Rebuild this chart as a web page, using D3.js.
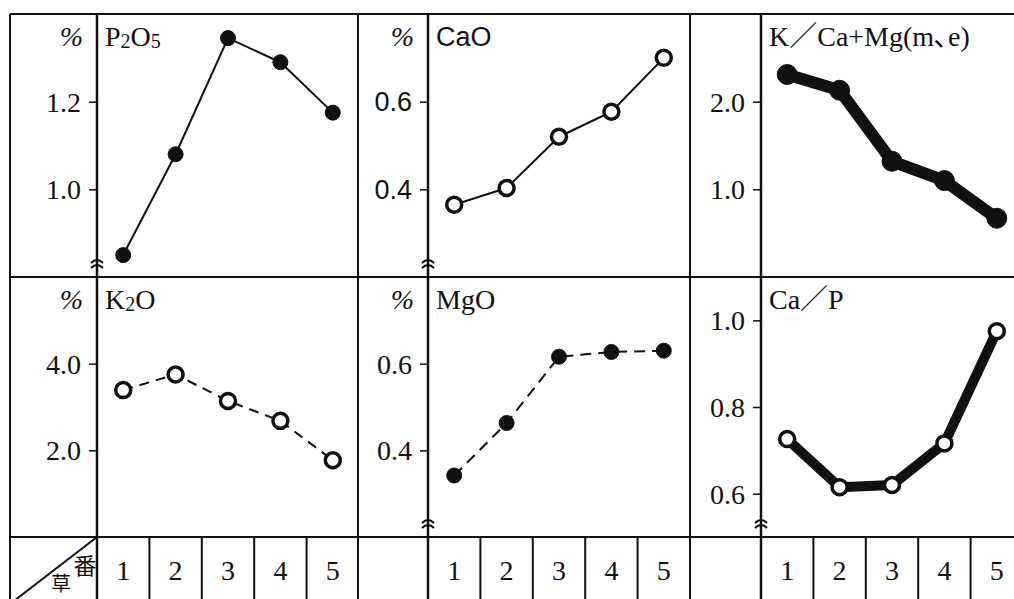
<!DOCTYPE html>
<html>
<head>
<meta charset="utf-8">
<script src="https://cdn.jsdelivr.net/npm/d3@7"></script>
<style>
  body { margin: 0; background: #fff; }
  svg { display: block; }
</style>
</head>
<body>
<div id="chart"></div>
<script>
// Data (categories 1-5 along the bottom table)
const categories = [1, 2, 3, 4, 5];

const p2o5Values = [0.85, 1.08, 1.345, 1.29, 1.175];
const caoValues = [0.365, 0.403, 0.52, 0.577, 0.70];
const kCaMgValues = [2.31, 2.13, 1.32, 1.10, 0.67];
const k2oValues = [3.39, 3.75, 3.14, 2.68, 1.77];
const mgoValues = [0.342, 0.463, 0.616, 0.627, 0.63];
const caPValues = [0.726, 0.615, 0.62, 0.716, 0.975];

// Axis domains and tick labels
const p2o5Domain = [0.8, 1.4];
const caoDomain = [0.2, 0.8];
const kCaMgDomain = [0, 3];
const k2oDomain = [0, 6];
const mgoDomain = [0.2, 0.8];
const caPDomain = [0.5, 1.1];

const p2o5Ticks = [1.0, 1.2];
const caoTicks = [0.4, 0.6];
const kCaMgTicks = [1.0, 2.0];
const k2oTicks = [2.0, 4.0];
const mgoTicks = [0.4, 0.6];
const caPTicks = [0.6, 0.8, 1.0];

document.addEventListener('DOMContentLoaded', function() {
    const width = 1014;
    const height = 599;
    const ink = '#111';
    const serif = '"Liberation Serif", "Noto Sans CJK JP", serif';
    const sans = '"Liberation Sans", Arial, sans-serif';
    const cjk = '"Noto Sans CJK JP", sans-serif';

    // Layout of the printed grid
    const labelCols = [{x: 10, w: 87}, {x: 358, w: 70}, {x: 690, w: 71}];
    const plotW = 262;
    const rows = [{top: 14, bottom: 277}, {top: 277, bottom: 537}];
    const tableTop = 537;
    const tableBottom = 604;
    const right = labelCols[2].x + labelCols[2].w + plotW;

    const svg = d3.select('#chart')
        .append('svg')
        .attr('width', width)
        .attr('height', height)
        .attr('viewBox', `0 0 ${width} ${height}`);

    svg.append('rect')
        .attr('width', width)
        .attr('height', height)
        .attr('fill', '#fff');

    const panels = [
        {col: 0, row: 0, title: [['P'], ['2', 'sub'], ['O'], ['5', 'sub']], values: p2o5Values,
         domain: p2o5Domain, ticks: p2o5Ticks, unit: true, brk: true, font: serif,
         lineWidth: 2, dash: null, marker: 'filled', r: 7.5},
        {col: 1, row: 0, title: [['CaO']], values: caoValues,
         domain: caoDomain, ticks: caoTicks, unit: true, brk: true, font: sans,
         lineWidth: 2, dash: null, marker: 'open', r: 7.5},
        {col: 2, row: 0, title: [['K／Ca+Mg(m､e)']], values: kCaMgValues,
         domain: kCaMgDomain, ticks: kCaMgTicks, unit: false, brk: false, font: serif,
         lineWidth: 12, dash: null, marker: 'filled', r: 10},
        {col: 0, row: 1, title: [['K'], ['2', 'sub'], ['O']], values: k2oValues,
         domain: k2oDomain, ticks: k2oTicks, unit: true, brk: false, font: serif,
         lineWidth: 2, dash: '10,7', marker: 'open', r: 7.5},
        {col: 1, row: 1, title: [['MgO']], values: mgoValues,
         domain: mgoDomain, ticks: mgoTicks, unit: true, brk: true, font: serif,
         lineWidth: 2, dash: '11,7', marker: 'filled', r: 7.5},
        {col: 2, row: 1, title: [['Ca／P']], values: caPValues,
         domain: caPDomain, ticks: caPTicks, unit: false, brk: true, font: serif,
         lineWidth: 10, dash: null, marker: 'open', r: 7.5}
    ];

    const frame = svg.append('g')
        .attr('fill', 'none')
        .attr('stroke', ink);

    // Horizontal rules
    [rows[0].top, rows[0].bottom, tableTop, tableBottom].forEach(y => {
        frame.append('line')
            .attr('x1', labelCols[0].x).attr('x2', right)
            .attr('y1', y).attr('y2', y)
            .attr('stroke-width', 2);
    });

    // Vertical rules: label columns and plot axes
    labelCols.forEach(c => {
        frame.append('line')
            .attr('x1', c.x).attr('x2', c.x)
            .attr('y1', rows[0].top).attr('y2', tableBottom)
            .attr('stroke-width', 2);
        frame.append('line')
            .attr('x1', c.x + c.w).attr('x2', c.x + c.w)
            .attr('y1', rows[0].top).attr('y2', tableBottom)
            .attr('stroke-width', 2.5);
    });

    // Bottom table with the category numbers
    labelCols.forEach(c => {
        const x = d3.scaleBand()
            .domain(categories)
            .range([c.x + c.w, c.x + c.w + plotW]);

        frame.selectAll(null)
            .data(categories.slice(1))
            .enter()
            .append('line')
            .attr('x1', d => x(d)).attr('x2', d => x(d))
            .attr('y1', tableTop).attr('y2', tableBottom)
            .attr('stroke-width', 2);

        svg.selectAll(null)
            .data(categories)
            .enter()
            .append('text')
            .attr('x', d => x(d) + x.bandwidth() / 2)
            .attr('y', tableTop + 43)
            .attr('text-anchor', 'middle')
            .style('font-family', serif)
            .style('font-size', '28px')
            .style('fill', ink)
            .text(d => d);
    });

    // Corner cell: diagonal with 番 / 草
    frame.append('line')
        .attr('x1', labelCols[0].x).attr('y1', tableBottom)
        .attr('x2', labelCols[0].x + labelCols[0].w).attr('y2', tableTop)
        .attr('stroke-width', 2);

    svg.append('text')
        .attr('x', 85).attr('y', tableTop + 37)
        .attr('text-anchor', 'middle')
        .style('font-family', cjk)
        .style('font-size', '23px')
        .style('fill', ink)
        .text('番');

    svg.append('text')
        .attr('x', 61).attr('y', tableTop + 54)
        .attr('text-anchor', 'middle')
        .style('font-family', cjk)
        .style('font-size', '20px')
        .style('fill', ink)
        .text('草');

    // Panels
    panels.forEach(p => {
        const c = labelCols[p.col];
        const r = rows[p.row];
        const x0 = c.x + c.w;

        const x = d3.scaleBand()
            .domain(categories)
            .range([x0, x0 + plotW]);

        const y = d3.scaleLinear()
            .domain(p.domain)
            .range([r.bottom, r.top]);

        const g = svg.append('g');

        // Ticks on the left of the axis
        const yAxis = g.append('g')
            .attr('transform', `translate(${x0}, 0)`)
            .call(d3.axisLeft(y)
                .tickValues(p.ticks)
                .tickSize(8)
                .tickPadding(8)
                .tickFormat(d3.format('.1f')));

        yAxis.select('.domain').remove();
        yAxis.selectAll('line')
            .attr('stroke', ink)
            .attr('stroke-width', 1.5);
        yAxis.selectAll('text')
            .attr('dy', '0.34em')
            .style('font-family', p.font)
            .style('font-size', p.font === sans ? '27px' : '28px')
            .style('fill', ink);

        // Unit mark
        if (p.unit) {
            g.append('text')
                .attr('x', x0 - 14)
                .attr('y', r.top + 32)
                .attr('text-anchor', 'end')
                .style('font-family', serif)
                .style('font-style', 'italic')
                .style('font-size', '28px')
                .style('fill', ink)
                .text('%');
        }

        // Axis break mark near the bottom of the axis
        if (p.brk) {
            const by = r.bottom - 13;
            [-3, 2].forEach(o => {
                g.append('path')
                    .attr('d', `M${x0 - 6},${by + o + 2} Q${x0},${by + o - 4} ${x0 + 6},${by + o + 2}`)
                    .attr('fill', 'none')
                    .attr('stroke', ink)
                    .attr('stroke-width', 2);
            });
        }

        // Title
        const title = g.append('text')
            .attr('x', x0 + 8)
            .attr('y', r.top + 32)
            .style('font-family', p.font)
            .style('font-size', p.font === sans ? '27px' : '28px')
            .style('fill', ink);
        p.title.forEach(([t, kind]) => {
            const span = title.append('tspan').text(t);
            if (kind === 'sub') {
                span.style('font-size', '20px').attr('dy', 2);
            } else if (title.selectAll('tspan').size() > 1) {
                span.attr('dy', -2);
            }
        });

        // Series line
        const line = d3.line()
            .x((d, i) => x(categories[i]) + x.bandwidth() / 2)
            .y(d => y(d));

        g.append('path')
            .datum(p.values)
            .attr('d', line)
            .attr('fill', 'none')
            .attr('stroke', ink)
            .attr('stroke-width', p.lineWidth)
            .attr('stroke-linejoin', 'round')
            .attr('stroke-dasharray', p.dash);

        // Markers
        g.selectAll('circle')
            .data(p.values)
            .enter()
            .append('circle')
            .attr('cx', (d, i) => x(categories[i]) + x.bandwidth() / 2)
            .attr('cy', d => y(d))
            .attr('r', p.r)
            .attr('fill', p.marker === 'filled' ? ink : '#fff')
            .attr('stroke', ink)
            .attr('stroke-width', p.marker === 'filled' ? 1 : 3.5);
    });
});
</script>
</body>
</html>
